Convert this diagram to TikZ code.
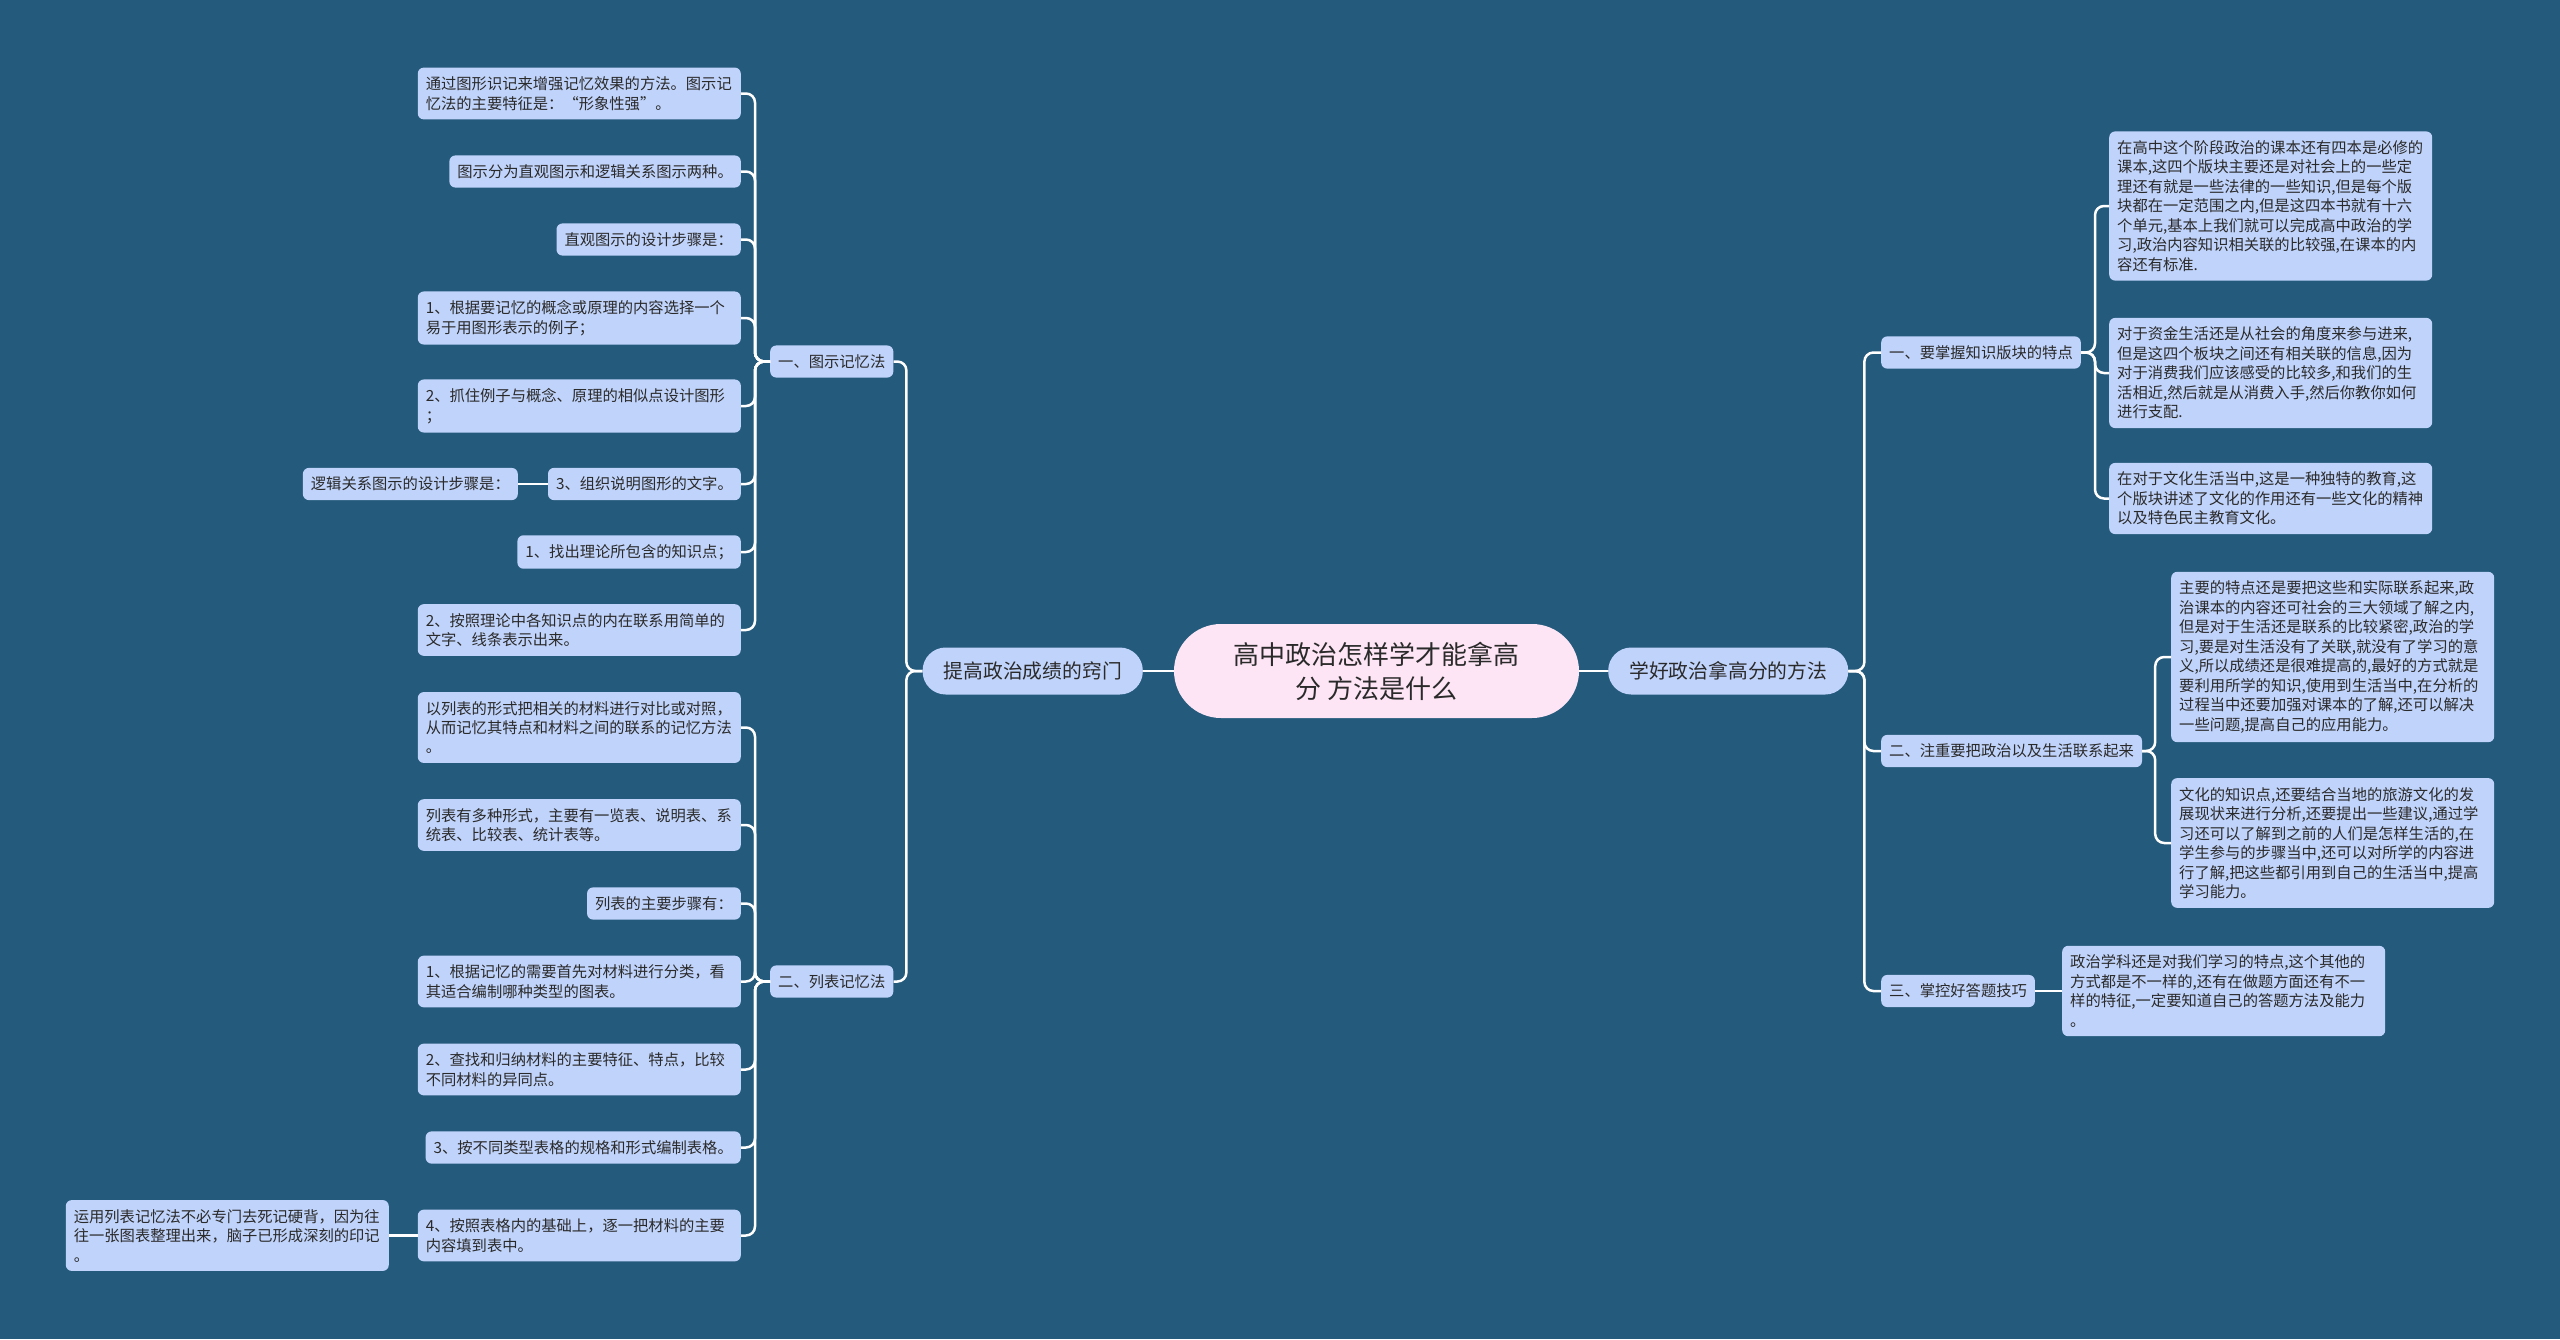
\documentclass[tikz,border=0pt]{standalone}
\usepackage{fontspec}
\setmainfont{Noto Sans CJK SC}
\definecolor{bgc}{HTML}{245A7C}
\definecolor{leafc}{HTML}{C0D3FA}
\definecolor{rootc}{HTML}{FDE5F5}
\definecolor{txtc}{HTML}{2A2A2A}
\tikzset{
  leaf/.style={fill=leafc, text=txtc, rounded corners=6pt, inner xsep=8pt, inner ysep=9pt,
    font=\fontsize{15.3pt}{19.5pt}\selectfont, align=left},
  wide/.style={leaf, text width=307pt},
  mainn/.style={fill=leafc, text=txtc, rounded corners=23pt, minimum height=47pt, inner xsep=21pt,
    font=\fontsize{19.8pt}{24pt}\selectfont},
  rootn/.style={fill=rootc, text=txtc, rounded corners=47pt, minimum width=405pt, minimum height=94pt,
    align=center, font=\fontsize{26pt}{34pt}\selectfont},
  conn/.style={draw=white, line width=2.5pt, rounded corners=9pt}
}
\begin{document}
\begin{tikzpicture}[x=1pt,y=-1pt]
\fill[bgc] (0,0) rectangle (2560,1339);
\useasboundingbox (0,0) rectangle (2560,1339);

% root and main branches
\node[rootn] (root) at (1376.5,671) {高中政治怎样学才能拿高\\分 方法是什么};
\node[mainn, anchor=east] (lm) at (1143,671) {提高政治成绩的窍门};
\node[mainn, anchor=west] (rm) at (1608,671) {学好政治拿高分的方法};

% left second level
\node[leaf, anchor=west] (t1) at (770,361.5) {一、图示记忆法};
\node[leaf, anchor=west] (t2) at (770,981.5) {二、列表记忆法};

% children of t1
\node[wide, anchor=east] (c1) at (741,93.5) {通过图形识记来增强记忆效果的方法。图示记\\忆法的主要特征是：“形象性强”。};
\node[leaf, anchor=east] (c2) at (741,171.5) {图示分为直观图示和逻辑关系图示两种。};
\node[leaf, anchor=east] (c3) at (741,239.5) {直观图示的设计步骤是：};
\node[wide, anchor=east] (c4) at (741,318) {1、根据要记忆的概念或原理的内容选择一个\\易于用图形表示的例子；};
\node[wide, anchor=east] (c5) at (741,406) {2、抓住例子与概念、原理的相似点设计图形\\；};
\node[leaf, anchor=east] (c6) at (741,484) {3、组织说明图形的文字。};
\node[leaf, anchor=east] (c7) at (741,552) {1、找出理论所包含的知识点；};
\node[wide, anchor=east] (c8) at (741,630) {2、按照理论中各知识点的内在联系用简单的\\文字、线条表示出来。};
\node[leaf, anchor=east] (g1) at (518,484) {逻辑关系图示的设计步骤是：};

% children of t2
\node[wide, anchor=east] (d1) at (741,727.5) {以列表的形式把相关的材料进行对比或对照，\\从而记忆其特点和材料之间的联系的记忆方法\\。};
\node[wide, anchor=east] (d2) at (741,825) {列表有多种形式，主要有一览表、说明表、系\\统表、比较表、统计表等。};
\node[leaf, anchor=east] (d3) at (741,903.5) {列表的主要步骤有：};
\node[wide, anchor=east] (d4) at (741,981.5) {1、根据记忆的需要首先对材料进行分类，看\\其适合编制哪种类型的图表。};
\node[wide, anchor=east] (d5) at (741,1069.5) {2、查找和归纳材料的主要特征、特点，比较\\不同材料的异同点。};
\node[leaf, anchor=east] (d6) at (741,1147.5) {3、按不同类型表格的规格和形式编制表格。};
\node[wide, anchor=east] (d7) at (741,1235.5) {4、按照表格内的基础上，逐一把材料的主要\\内容填到表中。};
\node[wide, anchor=east] (g2) at (389,1235.5) {运用列表记忆法不必专门去死记硬背，因为往\\往一张图表整理出来，脑子已形成深刻的印记\\。};

% right second level
\node[leaf, anchor=west] (r1) at (1881,352.5) {一、要掌握知识版块的特点};
\node[leaf, anchor=west] (r2) at (1881,751) {二、注重要把政治以及生活联系起来};
\node[leaf, anchor=west] (r3) at (1881,991) {三、掌控好答题技巧};

% right leaves
\node[wide, anchor=west] (ra) at (2109,206) {在高中这个阶段政治的课本还有四本是必修的\\课本,这四个版块主要还是对社会上的一些定\\理还有就是一些法律的一些知识,但是每个版\\块都在一定范围之内,但是这四本书就有十六\\个单元,基本上我们就可以完成高中政治的学\\习,政治内容知识相关联的比较强,在课本的内\\容还有标准.};
\node[wide, anchor=west] (rb) at (2109,373) {对于资金生活还是从社会的角度来参与进来,\\但是这四个板块之间还有相关联的信息,因为\\对于消费我们应该感受的比较多,和我们的生\\活相近,然后就是从消费入手,然后你教你如何\\进行支配.};
\node[wide, anchor=west] (rc) at (2109,498.5) {在对于文化生活当中,这是一种独特的教育,这\\个版块讲述了文化的作用还有一些文化的精神\\以及特色民主教育文化。};
\node[wide, anchor=west] (rd) at (2171,657) {主要的特点还是要把这些和实际联系起来,政\\治课本的内容还可社会的三大领域了解之内,\\但是对于生活还是联系的比较紧密,政治的学\\习,要是对生活没有了关联,就没有了学习的意\\义,所以成绩还是很难提高的,最好的方式就是\\要利用所学的知识,使用到生活当中,在分析的\\过程当中还要加强对课本的了解,还可以解决\\一些问题,提高自己的应用能力。};
\node[wide, anchor=west] (re) at (2171,843) {文化的知识点,还要结合当地的旅游文化的发\\展现状来进行分析,还要提出一些建议,通过学\\习还可以了解到之前的人们是怎样生活的,在\\学生参与的步骤当中,还可以对所学的内容进\\行了解,把这些都引用到自己的生活当中,提高\\学习能力。};
\node[wide, anchor=west] (rf) at (2062,991) {政治学科还是对我们学习的特点,这个其他的\\方式都是不一样的,还有在做题方面还有不一\\样的特征,一定要知道自己的答题方法及能力\\。};

% connectors
\draw[conn] (root.west) -- (lm.east);
\draw[conn] (root.east) -- (rm.west);
\draw[conn] (lm.west) -- ++(-16,0) |- (t1.east);
\draw[conn] (lm.west) -- ++(-16,0) |- (t2.east);
\foreach \c in {c1,c2,c3,c4,c5,c6,c7,c8}
  \draw[conn] (t1.west) -- ++(-15,0) |- (\c.east);
\foreach \c in {d1,d2,d3,d4,d5,d6,d7}
  \draw[conn] (t2.west) -- ++(-15,0) |- (\c.east);
\draw[conn] (c6.west) -- (g1.east);
\draw[conn] (d7.west) -- (g2.east);
\draw[conn] (rm.east) -- ++(16,0) |- (r1.west);
\draw[conn] (rm.east) -- ++(16,0) |- (r2.west);
\draw[conn] (rm.east) -- ++(16,0) |- (r3.west);
\foreach \c in {ra,rb,rc}
  \draw[conn] (r1.east) -- ++(14,0) |- (\c.west);
\foreach \c in {rd,re}
  \draw[conn] (r2.east) -- ++(13,0) |- (\c.west);
\draw[conn] (r3.east) -- (rf.west);
\end{tikzpicture}
\end{document}
